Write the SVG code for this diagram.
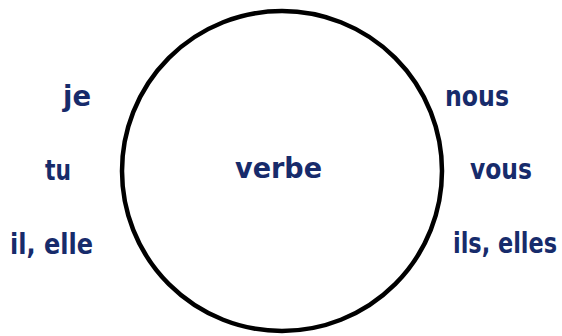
<svg xmlns="http://www.w3.org/2000/svg" width="562" height="336" viewBox="0 0 562 336">
<style>
.t{font-family:"DejaVu Sans","Liberation Sans",sans-serif;font-weight:bold;font-size:28px;fill:#172b6b;text-anchor:middle}
</style>
<rect width="562" height="336" fill="#ffffff"/>
<g id="connectors"/>
<g id="circle-verbe">
<circle cx="282" cy="171" r="160" fill="none" stroke="#000" stroke-width="4.5"/>
<text class="t" x="278.5" y="178" textLength="87" lengthAdjust="spacingAndGlyphs">verbe</text>
</g>
<g id="je"><text class="t" x="77" y="106" textLength="28" lengthAdjust="spacingAndGlyphs">je</text></g>
<g id="tu"><text class="t" x="58" y="180" textLength="26" lengthAdjust="spacingAndGlyphs">tu</text></g>
<g id="il-elle"><text class="t" x="51.5" y="254" textLength="83" lengthAdjust="spacingAndGlyphs">il, elle</text></g>
<g id="nous"><text class="t" x="477" y="106" textLength="64" lengthAdjust="spacingAndGlyphs">nous</text></g>
<g id="vous"><text class="t" x="501" y="179" textLength="62" lengthAdjust="spacingAndGlyphs">vous</text></g>
<g id="ils-elles"><text class="t" x="505" y="253" textLength="104" lengthAdjust="spacingAndGlyphs">ils, elles</text></g>
</svg>
